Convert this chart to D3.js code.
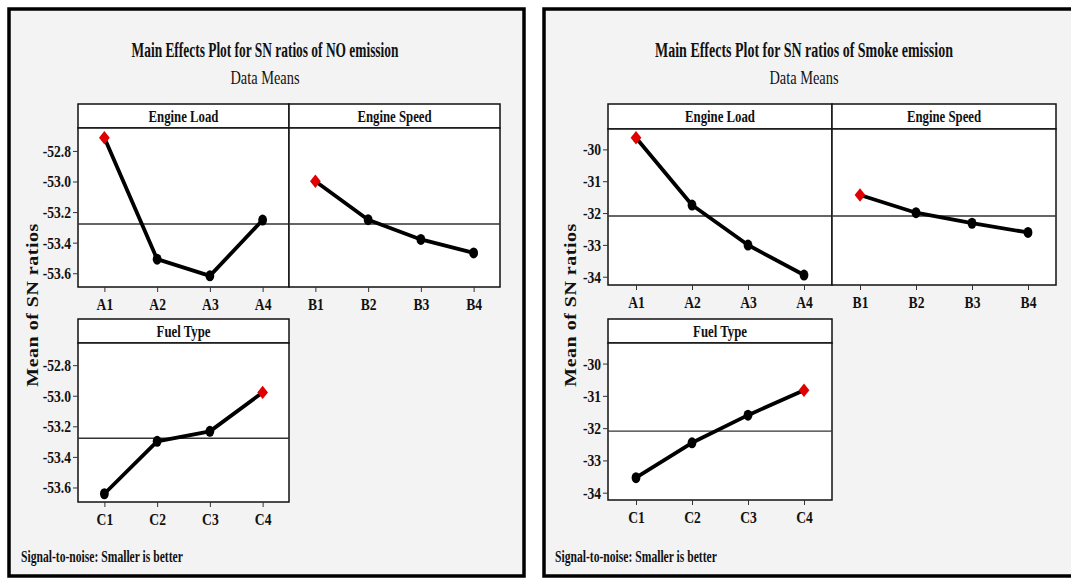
<!DOCTYPE html>
<html lang="en">
<head>
<meta charset="utf-8">
<title>Main Effects Plots for SN ratios</title>
<script src="https://cdnjs.cloudflare.com/ajax/libs/d3/7.8.5/d3.min.js"></script>
<style>
  body { margin: 0; background: #fff; }
  svg text { font-family: "Liberation Serif", "Times New Roman", serif; fill: #111; }
</style>
</head>
<body>
<div id="chart"></div>
<script>
// levels of each factor
const loadLevels = ["A1", "A2", "A3", "A4"];
const speedLevels = ["B1", "B2", "B3", "B4"];
const fuelLevels = ["C1", "C2", "C3", "C4"];

// SN ratios, NO emission
const noLoad = [-52.714, -53.508, -53.617, -53.252];
const noSpeed = [-52.998, -53.250, -53.379, -53.467];
const noFuel = [-53.641, -53.298, -53.233, -52.978];
const noTicks = [-52.8, -53.0, -53.2, -53.4, -53.6];

// SN ratios, Smoke emission
const smokeLoad = [-29.636, -31.749, -33.005, -33.947];
const smokeSpeed = [-31.435, -31.990, -32.320, -32.610];
const smokeFuel = [-33.536, -32.454, -31.598, -30.825];
const smokeTicks = [-30, -31, -32, -33, -34];

const W = 1071, H = 578;
const SQ = 0.8; // horizontal squeeze of the text, like the source picture

const svg = d3.select("#chart").append("svg")
  .attr("width", W).attr("height", H);

// squeeze a text sideways so it ends up `len` px wide
function fitText(sel, x, y, len, anchor) {
  const w = sel.node().getComputedTextLength();
  sel.attr("text-anchor", anchor)
    .attr("transform", `translate(${x},${y}) scale(${len / w},1)`);
}

const charts = [
  {
    title: "Main Effects Plot for SN ratios of NO emission", titleLen: 267,
    frame: [9, 9, 515, 567], cx: 265, ylabX: 32,
    cols: [[78, 289], [289, 500]], footX: 21,
    top: [104, 128, 287], bot: [319, 343, 502],
    domTop: [-53.69, -52.65], domBot: [-53.695, -52.655],
    ticks: noTicks, fmt: d => d.toFixed(1),
    factors: [
      {name: "Engine Load", levels: loadLevels, values: noLoad},
      {name: "Engine Speed", levels: speedLevels, values: noSpeed},
      {name: "Fuel Type", levels: fuelLevels, values: noFuel}
    ]
  },
  {
    title: "Main Effects Plot for SN ratios of Smoke emission", titleLen: 298,
    frame: [544, 9, 540, 567], cx: 804, ylabX: 570,
    cols: [[608, 832], [832, 1056]], footX: 555,
    top: [104, 129, 285], bot: [319, 343, 500],
    domTop: [-34.26, -29.36], domBot: [-34.226, -29.363],
    ticks: smokeTicks, fmt: d => d.toFixed(0),
    factors: [
      {name: "Engine Load", levels: loadLevels, values: smokeLoad},
      {name: "Engine Speed", levels: speedLevels, values: smokeSpeed},
      {name: "Fuel Type", levels: fuelLevels, values: smokeFuel}
    ]
  }
];

const line = d3.line();

charts.forEach(c => {
  const g = svg.append("g");
  const [fx, fy, fw, fh] = c.frame;

  g.append("rect")
    .attr("x", fx).attr("y", fy).attr("width", fw).attr("height", fh)
    .attr("fill", "#f3f3f3").attr("stroke", "#000").attr("stroke-width", 3.5);

  g.append("text")
    .attr("font-size", 20).attr("font-weight", "bold")
    .text(c.title)
    .call(fitText, c.cx, 57, c.titleLen, "middle");

  g.append("text")
    .attr("transform", `translate(${c.cx},84) scale(${SQ},1)`)
    .attr("text-anchor", "middle")
    .attr("font-size", 18)
    .text("Data Means");

  g.append("text")
    .attr("transform", `translate(${c.ylabX},305) scale(${SQ},1) rotate(-90)`)
    .attr("text-anchor", "middle").attr("dy", "0.35em")
    .attr("font-size", 20).attr("font-weight", "bold")
    .attr("letter-spacing", 0.5)
    .text("Mean of SN ratios");

  g.append("text")
    .attr("font-size", 17).attr("font-weight", "bold")
    .text("Signal-to-noise: Smaller is better")
    .call(fitText, c.footX, 562, 162, "start");

  const grand = d3.mean(c.factors.flatMap(f => f.values));

  c.factors.forEach((f, i) => {
    const [x0, x1] = c.cols[i === 2 ? 0 : i];
    const [hy, py, by] = i === 2 ? c.bot : c.top;
    const dom = i === 2 ? c.domBot : c.domTop;

    const x = d3.scalePoint().domain(f.levels).range([x0, x1]).padding(0.5);
    const y = d3.scaleLinear().domain(dom).range([by, py]);

    const p = g.append("g");

    // header strip and plot area
    p.append("rect")
      .attr("x", x0).attr("y", hy).attr("width", x1 - x0).attr("height", py - hy)
      .attr("fill", "#fff").attr("stroke", "#111").attr("stroke-width", 1.5);
    p.append("rect")
      .attr("x", x0).attr("y", py).attr("width", x1 - x0).attr("height", by - py)
      .attr("fill", "#fff").attr("stroke", "#111").attr("stroke-width", 1.5);

    p.append("text")
      .attr("transform", `translate(${(x0 + x1) / 2},${(hy + py) / 2}) scale(${SQ},1)`)
      .attr("text-anchor", "middle").attr("dy", "0.35em")
      .attr("font-size", 16).attr("font-weight", "bold")
      .text(f.name);

    // x axis
    const xa = p.append("g")
      .attr("transform", `translate(0,${by})`)
      .call(d3.axisBottom(x).tickSizeInner(5).tickSizeOuter(0).tickPadding(6));
    xa.select(".domain").remove();
    xa.selectAll("line").attr("stroke", "#333");
    xa.selectAll("text")
      .attr("transform", `scale(${SQ},1)`)
      .attr("font-size", 17).attr("font-weight", "bold")
      .style("font-family", "Liberation Serif, serif").attr("fill", "#111");

    // y axis on the left column only
    if (i !== 1) {
      const ya = p.append("g")
        .attr("transform", `translate(${x0},0)`)
        .call(d3.axisLeft(y).tickValues(c.ticks).tickFormat(c.fmt)
          .tickSizeInner(5).tickSizeOuter(0).tickPadding(3));
      ya.select(".domain").remove();
      ya.selectAll("line").attr("stroke", "#333");
      ya.selectAll("text")
        .attr("transform", `scale(${SQ},1)`)
        .attr("x", -7 / SQ)
        .attr("font-size", 17).attr("font-weight", "bold")
        .style("font-family", "Liberation Serif, serif").attr("fill", "#111");
    }

    // grand mean reference line
    p.append("line")
      .attr("x1", x0).attr("x2", x1)
      .attr("y1", y(grand)).attr("y2", y(grand))
      .attr("stroke", "#333").attr("stroke-width", 1.3);

    const pts = f.levels.map((l, k) => [x(l), y(f.values[k])]);
    p.append("path")
      .attr("d", line(pts))
      .attr("fill", "none").attr("stroke", "#000")
      .attr("stroke-width", 3.8).attr("stroke-linejoin", "round");

    const best = d3.maxIndex(f.values);
    p.selectAll(".pt")
      .data(pts)
      .join("path")
      .attr("class", "pt")
      .attr("transform", d => `translate(${d[0]},${d[1]}) scale(0.8,1)`)
      .attr("d", (d, k) => k === best
        ? d3.symbol(d3.symbolDiamond2, 115)()
        : d3.symbol(d3.symbolCircle, 95)())
      .attr("fill", (d, k) => k === best ? "#e00000" : "#000");
  });
});
</script>
</body>
</html>
